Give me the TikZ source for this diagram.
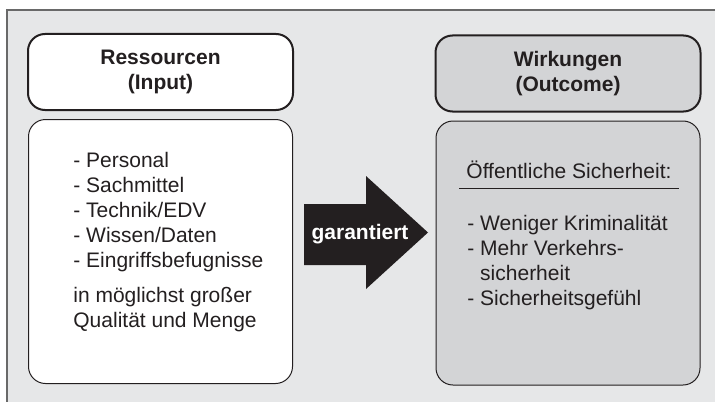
\documentclass[tikz,border=0pt]{standalone}
\usepackage{fontspec}
\setmainfont{Liberation Sans}
\usepackage{xcolor}
\usepackage{tikz}
\usetikzlibrary{positioning}

\definecolor{hintergrund}{RGB}{230,231,232}
\definecolor{kastengrau}{RGB}{211,212,214}
\definecolor{schrift}{RGB}{35,31,32}
\definecolor{rahmengrau}{RGB}{105,105,105}

\tikzset{
	rahmen/.style={fill=hintergrund, draw=rahmengrau, line width=0.6pt}, % the grey background frame
	kopf/.style={draw=schrift, line width=1pt, rounded corners=8.5pt, minimum width=132.5pt, minimum height=38pt, align=center, font=\fontsize{10.5}{12.5}\selectfont\bfseries, text=schrift}, % header boxes
	koerper/.style={draw=schrift, line width=0.5pt, rounded corners=8.5pt, minimum width=132pt, minimum height=132pt}, % body boxes
	liste/.style={inner sep=0pt, align=left, font=\fontsize{10.5}{12.5}\selectfont, text=schrift}, % text inside the body boxes
	pfeil/.style={fill=schrift}, % the big arrow
	pfeiltext/.style={text=white, font=\fontsize{10.5}{12.5}\selectfont\bfseries, inner sep=0pt}, % label on the arrow
}

\begin{document}
\begin{tikzpicture}[x=0.5pt, y=-0.5pt, node distance=4pt]
			\useasboundingbox (0,0) rectangle (715,401);
			\fill[rahmen] (7,10) rectangle (722,408);
			\draw[rahmen] (7,10) rectangle (722,408);
			
			% Define boxes
			\node[kopf, fill=white] (input) at (160.5,72) {Ressourcen\\(Input)};
			\node[koerper, fill=white, below=of input] (inputkasten) {};
			\node[kopf, fill=kastengrau] (outcome) at (568,73.5) {Wirkungen\\(Outcome)};
			\node[koerper, fill=kastengrau, below=of outcome] (outcomekasten) {};
			
			% Texts
			\node[liste, anchor=north west] (inputliste) at (73,152) {- Personal\\- Sachmittel\\- Technik/EDV\\- Wissen/Daten\\- Eingriffsbefugnisse\\[5pt]in möglichst großer\\Qualität und Menge};
			\node[liste, inner xsep=3.5pt, inner ysep=5pt, anchor=base west] (sicherheit) at (459,178) {Öffentliche Sicherheit:};
			\draw[schrift, line width=0.6pt] (sicherheit.south west) -- (sicherheit.south east);
			\node[liste, anchor=north west] (outcomeliste) at (467,215) {- Weniger Kriminalität\\- Mehr Verkehrs-\\\hphantom{- }sicherheit\\- Sicherheitsgefühl};
			
			% Arrow
			\fill[pfeil] (304,204) -- (366,204) -- (366,176) -- (428,232.5) -- (366,289) -- (366,265) -- (304,265) -- cycle;
			\node[pfeiltext, anchor=base] (garantiert) at (360,239) {garantiert};
		\end{tikzpicture}
\end{document}
